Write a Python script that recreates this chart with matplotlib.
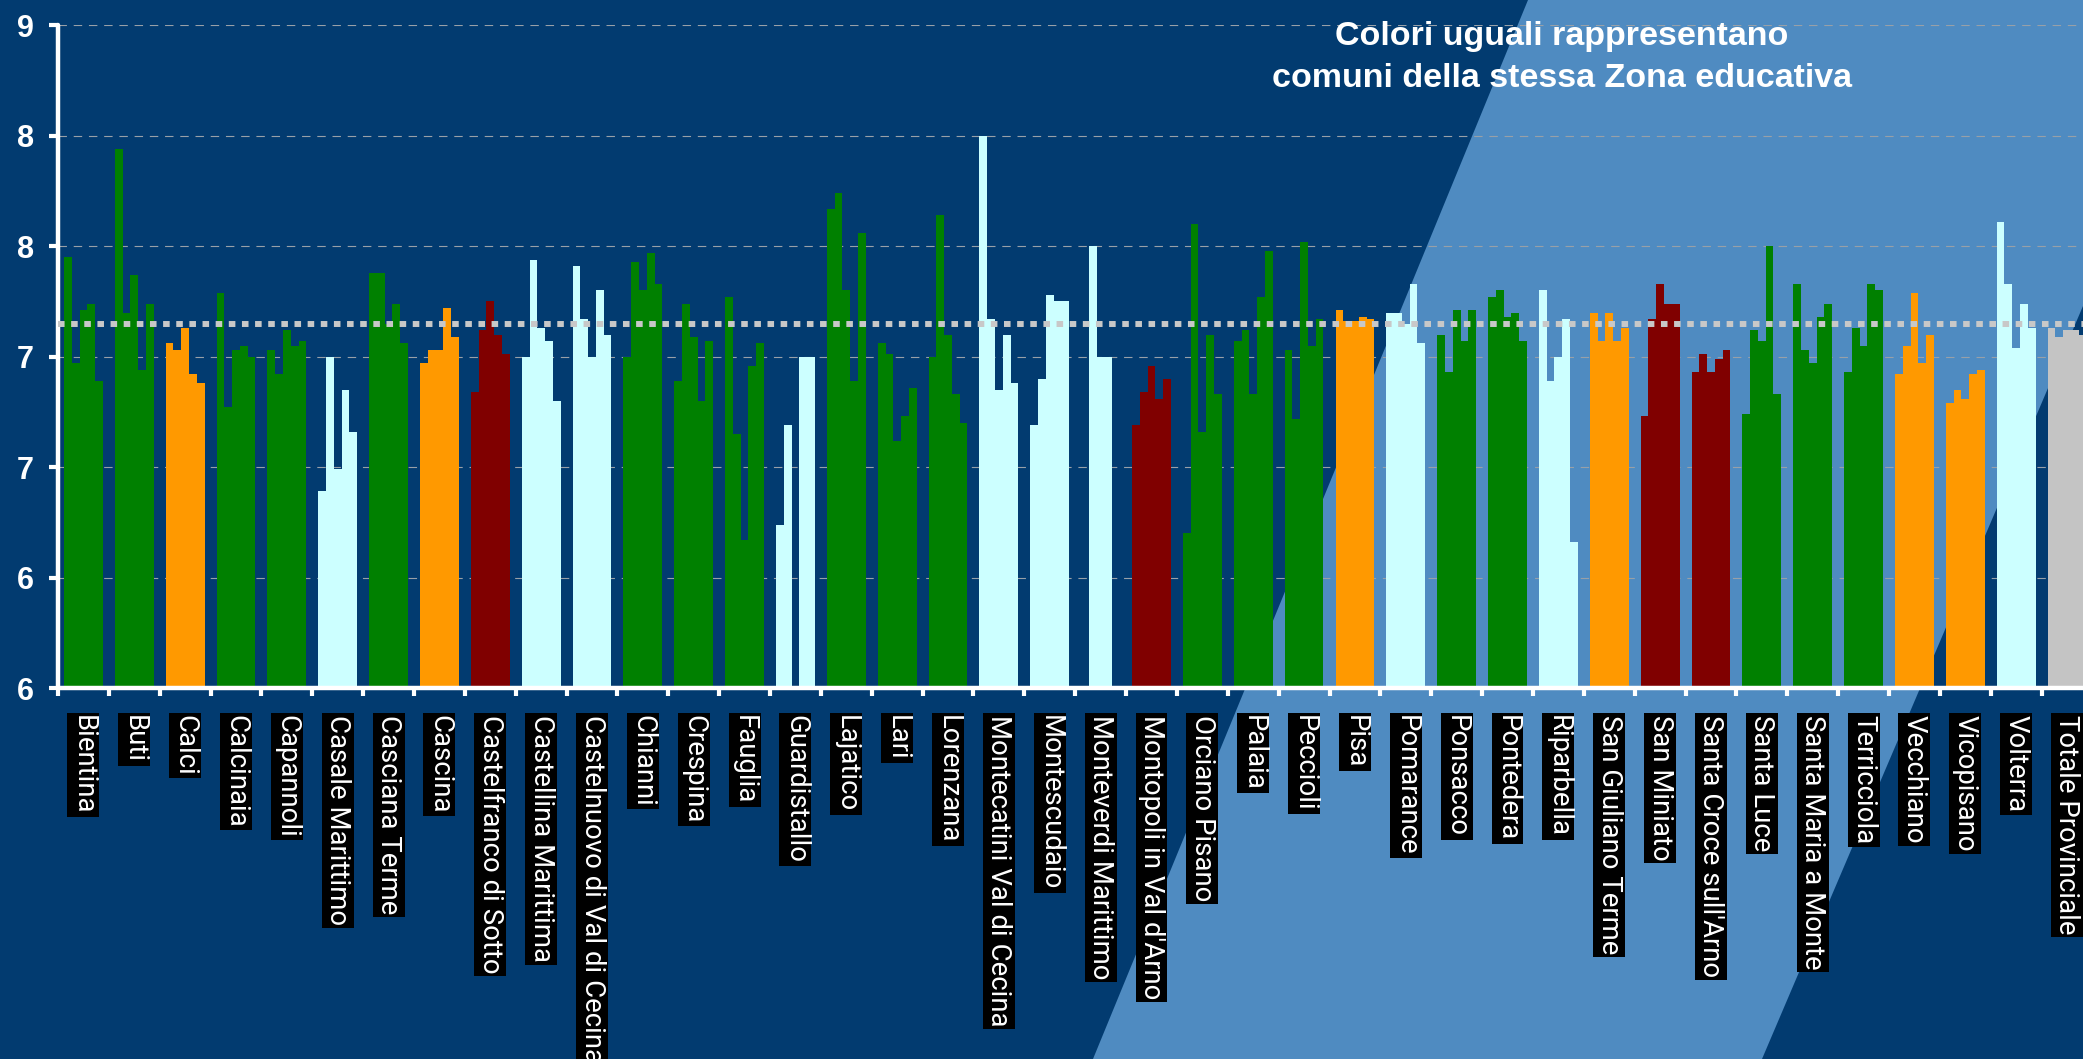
import numpy as np
import matplotlib
matplotlib.use("Agg")
import matplotlib.pyplot as plt
from matplotlib.patches import Polygon
from matplotlib import font_manager

comuni = ["Bientina", "Buti", "Calci", "Calcinaia", "Capannoli", "Casale Marittimo",
          "Casciana Terme", "Cascina", "Castelfranco di Sotto", "Castellina Marittima",
          "Castelnuovo di Val di Cecina", "Chianni", "Crespina", "Fauglia", "Guardistallo",
          "Lajatico", "Lari", "Lorenzana", "Montecatini Val di Cecina", "Montescudaio",
          "Monteverdi Marittimo", "Montopoli in Val d'Arno", "Orciano Pisano", "Palaia",
          "Peccioli", "Pisa", "Pomarance", "Ponsacco", "Pontedera", "Riparbella",
          "San Giuliano Terme", "San Miniato", "Santa Croce sull'Arno", "Santa Luce",
          "Santa Maria a Monte", "Terricciola", "Vecchiano", "Vicopisano", "Volterra",
          "Totale Provinciale"]

zona = ["Valdera", "Valdera", "Pisana", "Valdera", "Valdera", "Val di Cecina",
        "Valdera", "Pisana", "Valdarno", "Val di Cecina",
        "Val di Cecina", "Valdera", "Valdera", "Valdera", "Val di Cecina",
        "Valdera", "Valdera", "Valdera", "Val di Cecina", "Val di Cecina",
        "Val di Cecina", "Valdarno", "Valdera", "Valdera",
        "Valdera", "Pisana", "Val di Cecina", "Valdera", "Valdera", "Val di Cecina",
        "Pisana", "Valdarno", "Valdarno", "Valdera",
        "Valdera", "Valdera", "Pisana", "Pisana", "Val di Cecina",
        "Totale"]

nan = np.nan
serie_1 = [7.95, 8.44, 7.56, 7.79, 7.53, 6.89, 7.88, 7.47, 7.34, 7.50,
           7.91, 7.50, 7.39, 7.77, 6.74, 8.17, 7.56, 7.50, 8.50, 7.19,
           nan, 7.19, 6.70, 7.57, 7.53, 7.71, 7.70, 7.60, 7.77, 7.80,
           7.70, 7.23, 7.43, 7.24, 7.83, 7.43, 7.42, 7.29, 8.11, 7.63]
serie_2 = [7.47, 7.70, 7.53, 7.27, 7.42, 7.50, 7.88, 7.53, 7.62, 7.94,
           7.67, 7.93, 7.74, 7.15, 7.19, 8.24, 7.51, 8.14, 7.67, 7.40,
           8.00, 7.34, 8.10, 7.62, 7.22, 7.66, 7.70, 7.43, 7.80, 7.39,
           7.57, 7.67, 7.51, 7.62, 7.53, 7.63, 7.55, 7.35, 7.83, 7.59]
serie_3 = [7.71, 7.87, 7.63, 7.53, 7.62, 6.99, 7.65, 7.53, 7.75, 7.63,
           7.50, 7.80, 7.59, 6.67, nan, 7.80, 7.12, 7.60, 7.35, 7.78,
           7.50, 7.46, 7.16, 7.33, 8.02, 7.66, 7.65, 7.71, 7.68, 7.50,
           7.70, 7.83, 7.43, 7.57, 7.47, 7.55, 7.79, 7.31, 7.54, 7.62]
serie_4 = [7.74, 7.44, 7.42, 7.55, 7.55, 7.35, 7.74, 7.72, 7.60, 7.57,
           7.80, 7.97, 7.30, 7.46, 7.50, 7.39, 7.23, 7.33, 7.60, 7.75,
           7.50, 7.31, 7.60, 7.77, 7.55, 7.68, 7.83, 7.57, 7.70, 7.67,
           7.57, 7.74, 7.49, 8.00, 7.68, 7.83, 7.47, 7.42, 7.74, 7.62]
serie_5 = [7.39, 7.74, 7.38, 7.50, 7.57, 7.16, 7.56, 7.59, 7.51, 7.30,
           7.60, 7.83, 7.57, 7.56, 7.50, 8.06, 7.36, 7.20, 7.38, 7.75,
           nan, 7.40, 7.33, 7.98, 7.67, 7.67, 7.56, 7.71, 7.57, 6.66,
           7.63, 7.74, 7.53, 7.33, 7.74, 7.80, 7.60, 7.44, 7.63, 7.60]

media_provinciale = 7.65

colori_zona = {"Valdera": "#008000", "Pisana": "#FF9900", "Val di Cecina": "#CCFFFF",
               "Valdarno": "#800000", "Totale": "#C4C4C4"}

y_ticks = [6, 6.5, 7, 7.5, 8, 8.5, 9]
y_tick_labels = ["6", "6", "7", "7", "8", "8", "9"]

titolo_1 = "Colori uguali rappresentano"
titolo_2 = "comuni della stessa Zona educativa"

# ---------------------------------------------------------------
available = {f.name for f in font_manager.fontManager.ttflist}
if "Roboto" in available:
    label_family, label_size = ["Roboto", "DejaVu Sans"], 19.8
else:
    label_family, label_size = ["DejaVu Sans Mono", "DejaVu Sans"], 14.8

W, H = 2083, 1059
fig = plt.figure(figsize=(W / 100, H / 100), dpi=100)
DARK = "#023B70"
LIGHT = "#4F8BC1"
fig.patch.set_facecolor(DARK)

band = Polygon([(1093 / W, 0), (1528 / W, 1), (1, 1), (1, 1 - 306 / H), (1762 / W, 0)],
               closed=True, transform=fig.transFigure, facecolor=LIGHT,
               edgecolor="none", zorder=-10)
fig.add_artist(band)

ax = fig.add_axes([58 / W, (H - 688) / H, 2034.4 / W, (688 - 25.4) / H])
ax.set_facecolor("none")

x = np.arange(len(comuni))
series = [serie_1, serie_2, serie_3, serie_4, serie_5]
n = len(series)
group_w = 0.764
bw = group_w / n
cols = [colori_zona[z] for z in zona]
for k, s in enumerate(series):
    ax.bar(x + (k - (n - 1) / 2) * bw, np.array(s, dtype=float), width=bw,
           color=cols, linewidth=0, zorder=2)

ax.axhline(media_provinciale, color="#C8C8C8", lw=4.3, linestyle=(0, (1.1, 1.1)),
           dash_capstyle="butt", zorder=3)

ax.set_xlim(-0.5, len(comuni) - 0.5)
ax.set_ylim(6, 9)

ax.set_axisbelow(True)
ax.grid(axis="y", color="#98A0A8", lw=0.8, linestyle=(0, (7.6, 6.1)))

for sp in ["top", "right"]:
    ax.spines[sp].set_visible(False)
for sp in ["left", "bottom"]:
    ax.spines[sp].set_color("white")
    ax.spines[sp].set_linewidth(3.2)
    ax.spines[sp].set_capstyle("round")

ax.set_yticks(y_ticks)
ax.set_yticklabels(y_tick_labels, fontsize=22, fontweight="bold", color="white",
                   family=["Liberation Sans", "DejaVu Sans"])
ax.tick_params(axis="y", length=6.5, width=3, color="white", pad=11)

ax.set_xticks(np.arange(-0.5, len(comuni), 1.0))
ax.set_xticklabels([])
ax.tick_params(axis="x", which="major", length=6, width=3, color="white", direction="out")
ax.set_xticks(x, minor=True)
ax.set_xticklabels(comuni, minor=True, rotation=270, fontsize=label_size, color="white",
                   family=label_family)
ax.tick_params(axis="x", which="minor", length=0, pad=19.5)
for t in ax.get_xticklabels(minor=True):
    t.set_bbox(dict(facecolor="black", edgecolor="none", pad=1.8))

fig.text(1562 / W, 1 - 44.6 / H, titolo_1, ha="center", va="baseline", fontsize=24.5,
         fontweight="bold", color="white", family=["Liberation Sans", "DejaVu Sans"])
fig.text(1562 / W, 1 - 87 / H, titolo_2, ha="center", va="baseline", fontsize=24.5,
         fontweight="bold", color="white", family=["Liberation Sans", "DejaVu Sans"])

fig.savefig("out.png", dpi=100, facecolor=fig.get_facecolor())
